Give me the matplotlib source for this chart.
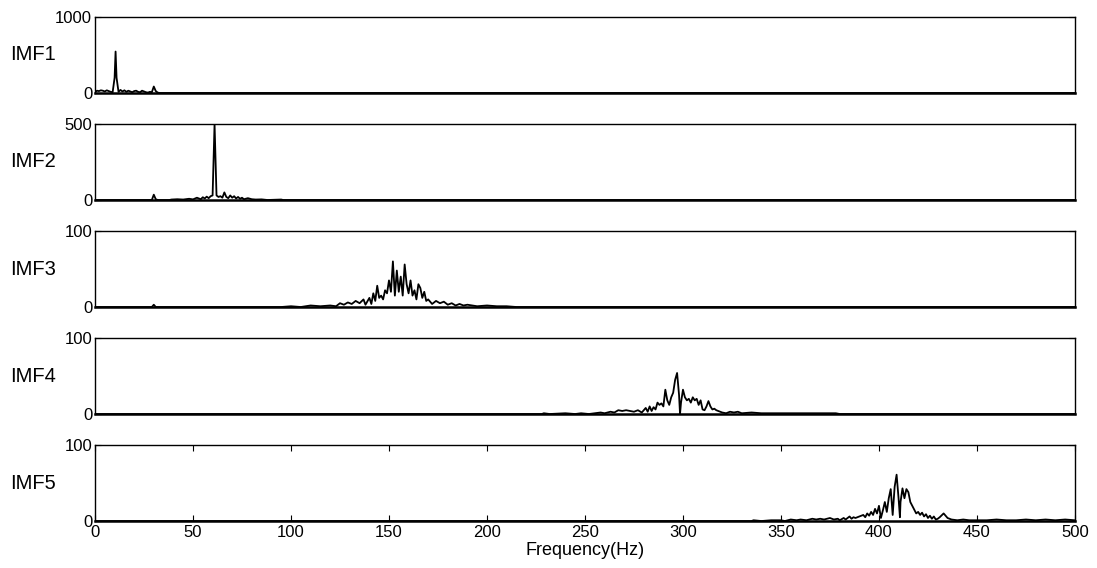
import matplotlib.pyplot as plt

plt.rcParams["font.family"] = ["Liberation Sans", "DejaVu Sans"]

# spectra (frequency in Hz, amplitude)
f1 = [0, 1, 2, 3, 4, 5, 6, 7, 8, 9, 10, 10.5, 11, 12, 13, 14, 15, 16, 17, 18, 19, 20,
      21, 22, 23, 24, 25, 26, 27, 28, 29, 30, 31, 32, 33, 500]
a1 = [10, 30, 25, 35, 30, 20, 35, 25, 15, 10, 200, 545, 200, 15, 40, 20, 35, 15, 30, 20, 10, 25,
      30, 15, 10, 30, 20, 10, 5, 15, 10, 85, 25, 5, 0, 0]

f2 = [0, 29, 30, 31, 32, 38, 39, 42, 45, 48, 50, 52, 53, 54, 55, 56, 57, 58, 59, 60, 61, 62,
      63, 64, 65, 66, 67, 68, 69, 70, 71, 72, 73, 74, 75, 76, 78, 80, 82, 85, 88, 95, 96, 500]
a2 = [0, 0, 35, 5, 0, 0, 3, 5, 3, 8, 4, 15, 10, 5, 18, 10, 22, 12, 25, 30, 500, 30,
      20, 25, 15, 50, 20, 12, 30, 15, 25, 10, 20, 8, 15, 5, 12, 5, 3, 4, 0, 3, 0, 0]

f3 = [0, 29, 30, 31, 95, 100, 105, 110, 115, 120, 123, 125, 127, 129, 131, 133, 135, 137, 138,
      140, 141, 142, 143, 144, 145, 146, 147, 148, 149, 150, 151, 152, 153, 154, 155, 156, 157,
      158, 159, 160, 161, 162, 163, 164, 165, 166, 167, 168, 169, 170, 172, 174, 176, 178, 180,
      182, 184, 186, 188, 190, 195, 200, 205, 210, 215, 500]
a3 = [0, 0, 3, 0, 0, 1, 0, 2, 1, 2, 1, 5, 3, 6, 4, 8, 5, 10, 3,
      12, 4, 18, 8, 28, 12, 15, 10, 22, 18, 35, 20, 60, 15, 48, 20, 40, 15,
      56, 30, 18, 35, 15, 22, 10, 30, 25, 12, 20, 8, 10, 4, 8, 5, 7, 3,
      5, 2, 4, 2, 3, 1, 2, 1, 1, 0, 0]

f4 = [0, 228, 229, 232, 240, 245, 248, 252, 255, 258, 260, 263, 265, 267, 269, 271, 273, 275,
      277, 279, 281, 282, 283, 284, 285, 286, 287, 288, 289, 290, 291, 292, 293, 294, 295, 296,
      297, 298, 298.5, 299, 300, 301, 302, 303, 304, 305, 306, 307, 308, 309, 310, 311, 312, 313,
      314, 315, 316, 317, 318, 320, 322, 324, 326, 328, 330, 335, 340, 345, 350, 360, 370, 378,
      380, 500]
a4 = [0, 0, 1, 0, 1, 0, 1, 0, 1, 2, 1, 3, 2, 5, 4, 5, 4, 3,
      5, 2, 8, 3, 10, 4, 9, 6, 15, 12, 14, 10, 32, 18, 12, 22, 28, 45,
      54, 25, 0, 15, 32, 22, 18, 20, 15, 22, 18, 20, 12, 18, 6, 5, 10, 17,
      10, 6, 7, 5, 4, 2, 1, 3, 2, 3, 1, 2, 1, 1, 1, 1, 1, 1,
      0, 0]

f5 = [0, 335, 336, 340, 345, 350, 352, 355, 358, 360, 363, 366, 368, 370, 372, 375, 377, 379,
      380, 382, 383, 385, 386, 387, 388, 390, 392, 393, 394, 395, 396, 397, 398, 399, 400, 401,
      402, 403, 404, 405, 406, 407, 408, 409, 410, 410.7, 411, 412, 413, 414, 415, 416, 417, 418,
      419, 420, 421, 422, 423, 424, 425, 426, 427, 428, 429, 430, 431, 433, 435, 437, 440, 443,
      446, 450, 455, 460, 465, 470, 475, 480, 485, 490, 495, 500]
a5 = [0, 0, 1, 0, 1, 1, 0, 2, 1, 2, 1, 3, 2, 3, 2, 4, 2, 3,
      1, 4, 2, 6, 3, 5, 4, 6, 8, 5, 10, 7, 12, 8, 16, 10, 20, 4,
      14, 25, 12, 30, 42, 8, 45, 61, 30, 5, 25, 43, 30, 42, 38, 25, 20, 15,
      10, 12, 8, 11, 6, 9, 4, 7, 3, 6, 2, 3, 5, 10, 4, 2, 1, 2,
      1, 1, 1, 2, 1, 1, 2, 1, 2, 1, 2, 1]

freqs = [f1, f2, f3, f4, f5]
amps = [a1, a2, a3, a4, a5]
names = ['IMF1', 'IMF2', 'IMF3', 'IMF4', 'IMF5']
ytops = [1000, 500, 100, 100, 100]
xticks = [0, 50, 100, 150, 200, 250, 300, 350, 400, 450, 500]

fig = plt.figure(figsize=(10.97, 5.68), dpi=100)
left, width, height = 0.0866, 0.8933, 0.1338
bottoms = [0.8363, 0.6479, 0.4595, 0.2711, 0.0827]

for i in range(5):
    ax = fig.add_axes([left, bottoms[i], width, height])
    ax.plot(freqs[i], amps[i], color='black', linewidth=1.3)
    ax.set_xlim(0, 500)
    ax.set_ylim(0, ytops[i])
    ax.set_yticks([0, ytops[i]])
    ax.set_xticks(xticks)
    ax.tick_params(direction='in', labelsize=12, pad=2, top=True, right=True, length=4)
    ax.tick_params(axis='x', pad=3)
    for s in ax.spines.values():
        s.set_linewidth(1.0)
    ax.spines['bottom'].set_linewidth(1.8)
    if i < 4:
        ax.tick_params(axis='x', length=0, labelbottom=False)
    else:
        ax.set_xlabel('Frequency(Hz)', fontsize=13, labelpad=1)
    fig.text(0.009, bottoms[i] + height * 0.5, names[i], fontsize=14.5, va='center', ha='left')

plt.savefig('out.png', dpi=100)
